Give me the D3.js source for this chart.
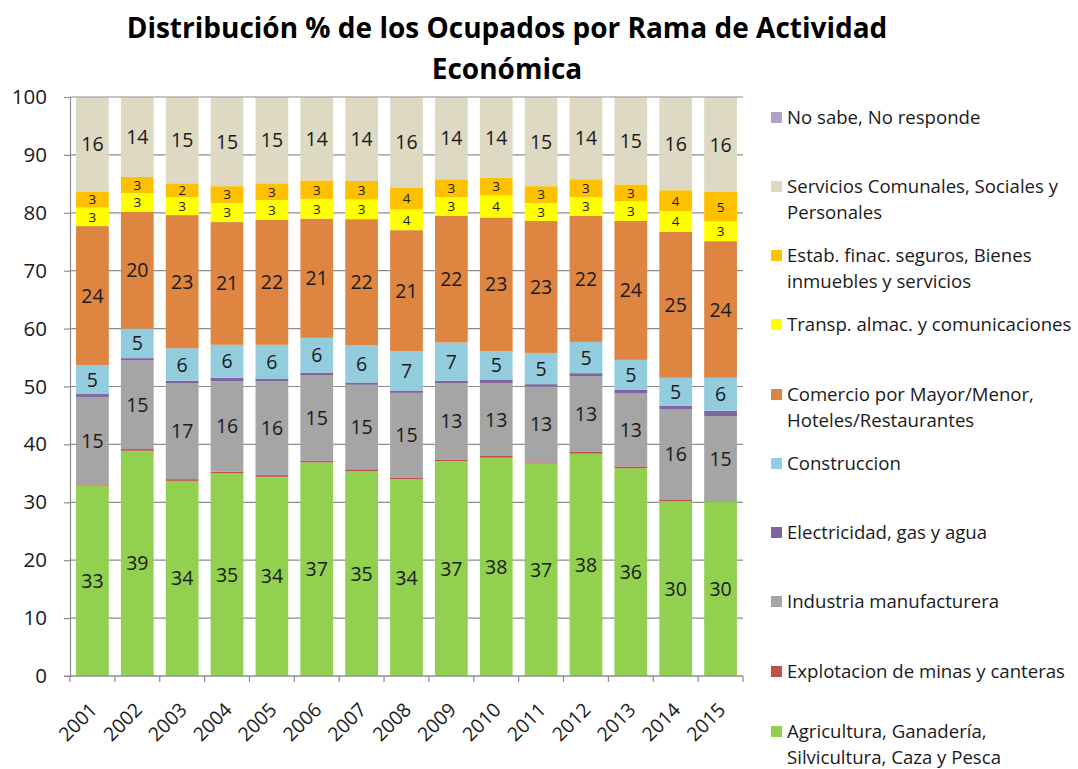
<!DOCTYPE html>
<html>
<head>
<meta charset="utf-8">
<script src="https://cdn.jsdelivr.net/npm/d3@7"></script>
<style>
  body { margin: 0; background: #fff; }
  text { font-family: "Open Sans", Lato, sans-serif; }
</style>
</head>
<body>
<svg width="1078" height="769"></svg>
<script>
// years on the x axis
const years = ["2001","2002","2003","2004","2005","2006","2007","2008","2009","2010","2011","2012","2013","2014","2015"];

// % of employed per branch, bottom to top of each bar
const agricultura  = [32.9, 38.9, 33.7, 35.0, 34.4, 36.9, 35.4, 34.0, 37.1, 37.7, 36.7, 38.4, 35.9, 30.2, 30.1];
const minas        = [0.2, 0.3, 0.3, 0.3, 0.3, 0.3, 0.3, 0.3, 0.3, 0.3, 0.2, 0.3, 0.3, 0.3, 0.1];
const industria    = [15.1, 15.3, 16.6, 15.6, 16.2, 14.7, 14.6, 14.6, 13.2, 12.6, 13.1, 13.1, 12.6, 15.6, 14.7];
const electricidad = [0.5, 0.4, 0.4, 0.6, 0.4, 0.5, 0.4, 0.4, 0.4, 0.6, 0.4, 0.5, 0.6, 0.6, 0.9];
const construccion = [5.0, 5.1, 5.6, 5.7, 5.9, 6.0, 6.4, 6.8, 6.6, 4.9, 5.4, 5.4, 5.2, 4.8, 5.7];
const comercio     = [24.0, 20.2, 23.0, 21.2, 21.6, 20.6, 21.8, 20.9, 21.9, 23.1, 22.8, 21.8, 24.0, 25.2, 23.6];
const transporte   = [3.2, 3.2, 3.1, 3.3, 3.4, 3.4, 3.4, 3.6, 3.2, 3.8, 3.1, 3.2, 3.4, 3.6, 3.4];
const financieros  = [2.8, 2.8, 2.4, 2.9, 2.9, 3.2, 3.2, 3.8, 3.1, 3.1, 2.9, 3.1, 2.9, 3.6, 5.1];
const servicios    = [16.2, 13.7, 14.8, 15.3, 14.8, 14.3, 14.4, 15.5, 14.1, 13.8, 15.3, 14.1, 15.0, 16.0, 16.3];
const noSabe       = [0.1, 0.1, 0.1, 0.1, 0.1, 0.1, 0.1, 0.1, 0.1, 0.1, 0.1, 0.1, 0.1, 0.1, 0.1];

const yTicks = [0, 10, 20, 30, 40, 50, 60, 70, 80, 90, 100];

// series in stacking order (bottom first)
const series = [
  { key: "agr", name: ["Agricultura, Ganadería,", "Silvicultura, Caza y Pesca"], values: agricultura, color: "#92D050", label: true },
  { key: "min", name: ["Explotacion de minas y canteras"], values: minas, color: "#C0504D", label: false },
  { key: "ind", name: ["Industria manufacturera"], values: industria, color: "#A5A5A5", label: true },
  { key: "ele", name: ["Electricidad, gas y agua"], values: electricidad, color: "#8064A2", label: false },
  { key: "con", name: ["Construccion"], values: construccion, color: "#93CDDD", label: true },
  { key: "com", name: ["Comercio por  Mayor/Menor,", "Hoteles/Restaurantes"], values: comercio, color: "#DE8541", label: true },
  { key: "tra", name: ["Transp. almac. y comunicaciones"], values: transporte, color: "#FFFF00", label: true, small: true },
  { key: "fin", name: ["Estab. finac. seguros, Bienes", "inmuebles y servicios"], values: financieros, color: "#FFC000", label: true, small: true },
  { key: "ser", name: ["Servicios Comunales, Sociales y", "Personales"], values: servicios, color: "#DDD9C3", label: true },
  { key: "nsr", name: ["No sabe, No responde"], values: noSabe, color: "#B3A2C7", label: false }
];

const svg = d3.select("svg");
const plotLeft = 70, plotRight = 743, plotTop = 97, plotBottom = 676;

// table for d3.stack
const table = years.map((yr, i) => {
  const row = { year: yr };
  series.forEach(s => { row[s.key] = s.values[i]; });
  return row;
});
const stacked = d3.stack().keys(series.map(s => s.key))(table);

const x = d3.scaleBand()
  .domain(years)
  .range([plotLeft, plotRight])
  .paddingInner(0.27)
  .paddingOuter(0.135);

const y = d3.scaleLinear()
  .domain([0, 100])
  .range([plotBottom, plotTop]);

// gridlines
svg.append("g")
  .selectAll("line")
  .data(yTicks)
  .join("line")
  .attr("x1", plotLeft)
  .attr("x2", plotRight)
  .attr("y1", d => y(d))
  .attr("y2", d => y(d))
  .attr("stroke", "#8c8c8c")
  .attr("stroke-width", 1.2);

// bars
const layers = svg.append("g")
  .selectAll("g")
  .data(stacked)
  .join("g")
  .attr("fill", (d, i) => series[i].color);

layers.selectAll("rect")
  .data(d => d)
  .join("rect")
  .attr("x", d => x(d.data.year))
  .attr("y", d => y(d[1]))
  .attr("width", x.bandwidth())
  .attr("height", d => y(d[0]) - y(d[1]));

// value labels
stacked.forEach((layer, i) => {
  const s = series[i];
  if (!s.label) return;
  svg.append("g")
    .selectAll("text")
    .data(layer)
    .join("text")
    .attr("x", d => x(d.data.year) + x.bandwidth() / 2)
    .attr("y", d => (y(d[0]) + y(d[1])) / 2)
    .attr("dy", "0.36em")
    .attr("text-anchor", "middle")
    .attr("font-size", s.small ? 13.5 : 19.5)
    .attr("fill", "#1a1a1a")
    .text(d => Math.round(d[1] - d[0]));
});

// y axis
const yAxis = svg.append("g")
  .attr("transform", `translate(${plotLeft},0)`)
  .call(d3.axisLeft(y).tickValues(yTicks).tickSize(6).tickPadding(17));
yAxis.select(".domain").attr("stroke", "#8c8c8c").attr("stroke-width", 1.2);
yAxis.selectAll(".tick line").attr("stroke", "#8c8c8c").attr("stroke-width", 1.2);
yAxis.selectAll("text").attr("font-size", 20.5).attr("fill", "#1a1a1a")
  .style("font-family", "'Open Sans', Lato, sans-serif");

// x axis line + ticks between bands
svg.append("line")
  .attr("x1", plotLeft - 6).attr("x2", plotRight)
  .attr("y1", plotBottom).attr("y2", plotBottom)
  .attr("stroke", "#8c8c8c").attr("stroke-width", 1.2);

svg.append("g")
  .selectAll("line")
  .data(d3.range(years.length + 1))
  .join("line")
  .attr("x1", i => plotLeft + i * (plotRight - plotLeft) / years.length)
  .attr("x2", i => plotLeft + i * (plotRight - plotLeft) / years.length)
  .attr("y1", plotBottom)
  .attr("y2", plotBottom + 6)
  .attr("stroke", "#8c8c8c")
  .attr("stroke-width", 1.2);

svg.append("g")
  .selectAll("text")
  .data(years)
  .join("text")
  .attr("transform", d => `translate(${x(d) + x.bandwidth() / 2 + 6},${plotBottom + 35}) rotate(-45)`)
  .attr("text-anchor", "end")
  .attr("font-size", 19.5)
  .attr("fill", "#1a1a1a")
  .text(d => d);

// title
const title = svg.append("text")
  .attr("x", 507)
  .attr("y", 38)
  .attr("text-anchor", "middle")
  .attr("font-size", 28)
  .attr("font-weight", "bold")
  .attr("fill", "#000");
title.append("tspan").attr("x", 507).text("Distribución % de los Ocupados por Rama de Actividad");
title.append("tspan").attr("x", 507).attr("dy", 41).text("Económica");

// legend (top entry = last series)
const legendSeries = series.slice().reverse();
const legendY = [117, 186, 255, 324, 394, 463, 532, 601, 671, 731];
const legend = svg.append("g")
  .selectAll("g")
  .data(legendSeries)
  .join("g")
  .attr("transform", (d, i) => `translate(771,${legendY[i]})`);

legend.append("rect")
  .attr("x", 0).attr("y", -5)
  .attr("width", 11).attr("height", 11)
  .attr("fill", d => d.color);

legend.append("text")
  .attr("font-size", 18.6)
  .attr("fill", "#1a1a1a")
  .selectAll("tspan")
  .data(d => d.name)
  .join("tspan")
  .attr("x", 16)
  .attr("dy", (d, i) => i === 0 ? "0.35em" : 26)
  .text(d => d);
</script>
</body>
</html>
